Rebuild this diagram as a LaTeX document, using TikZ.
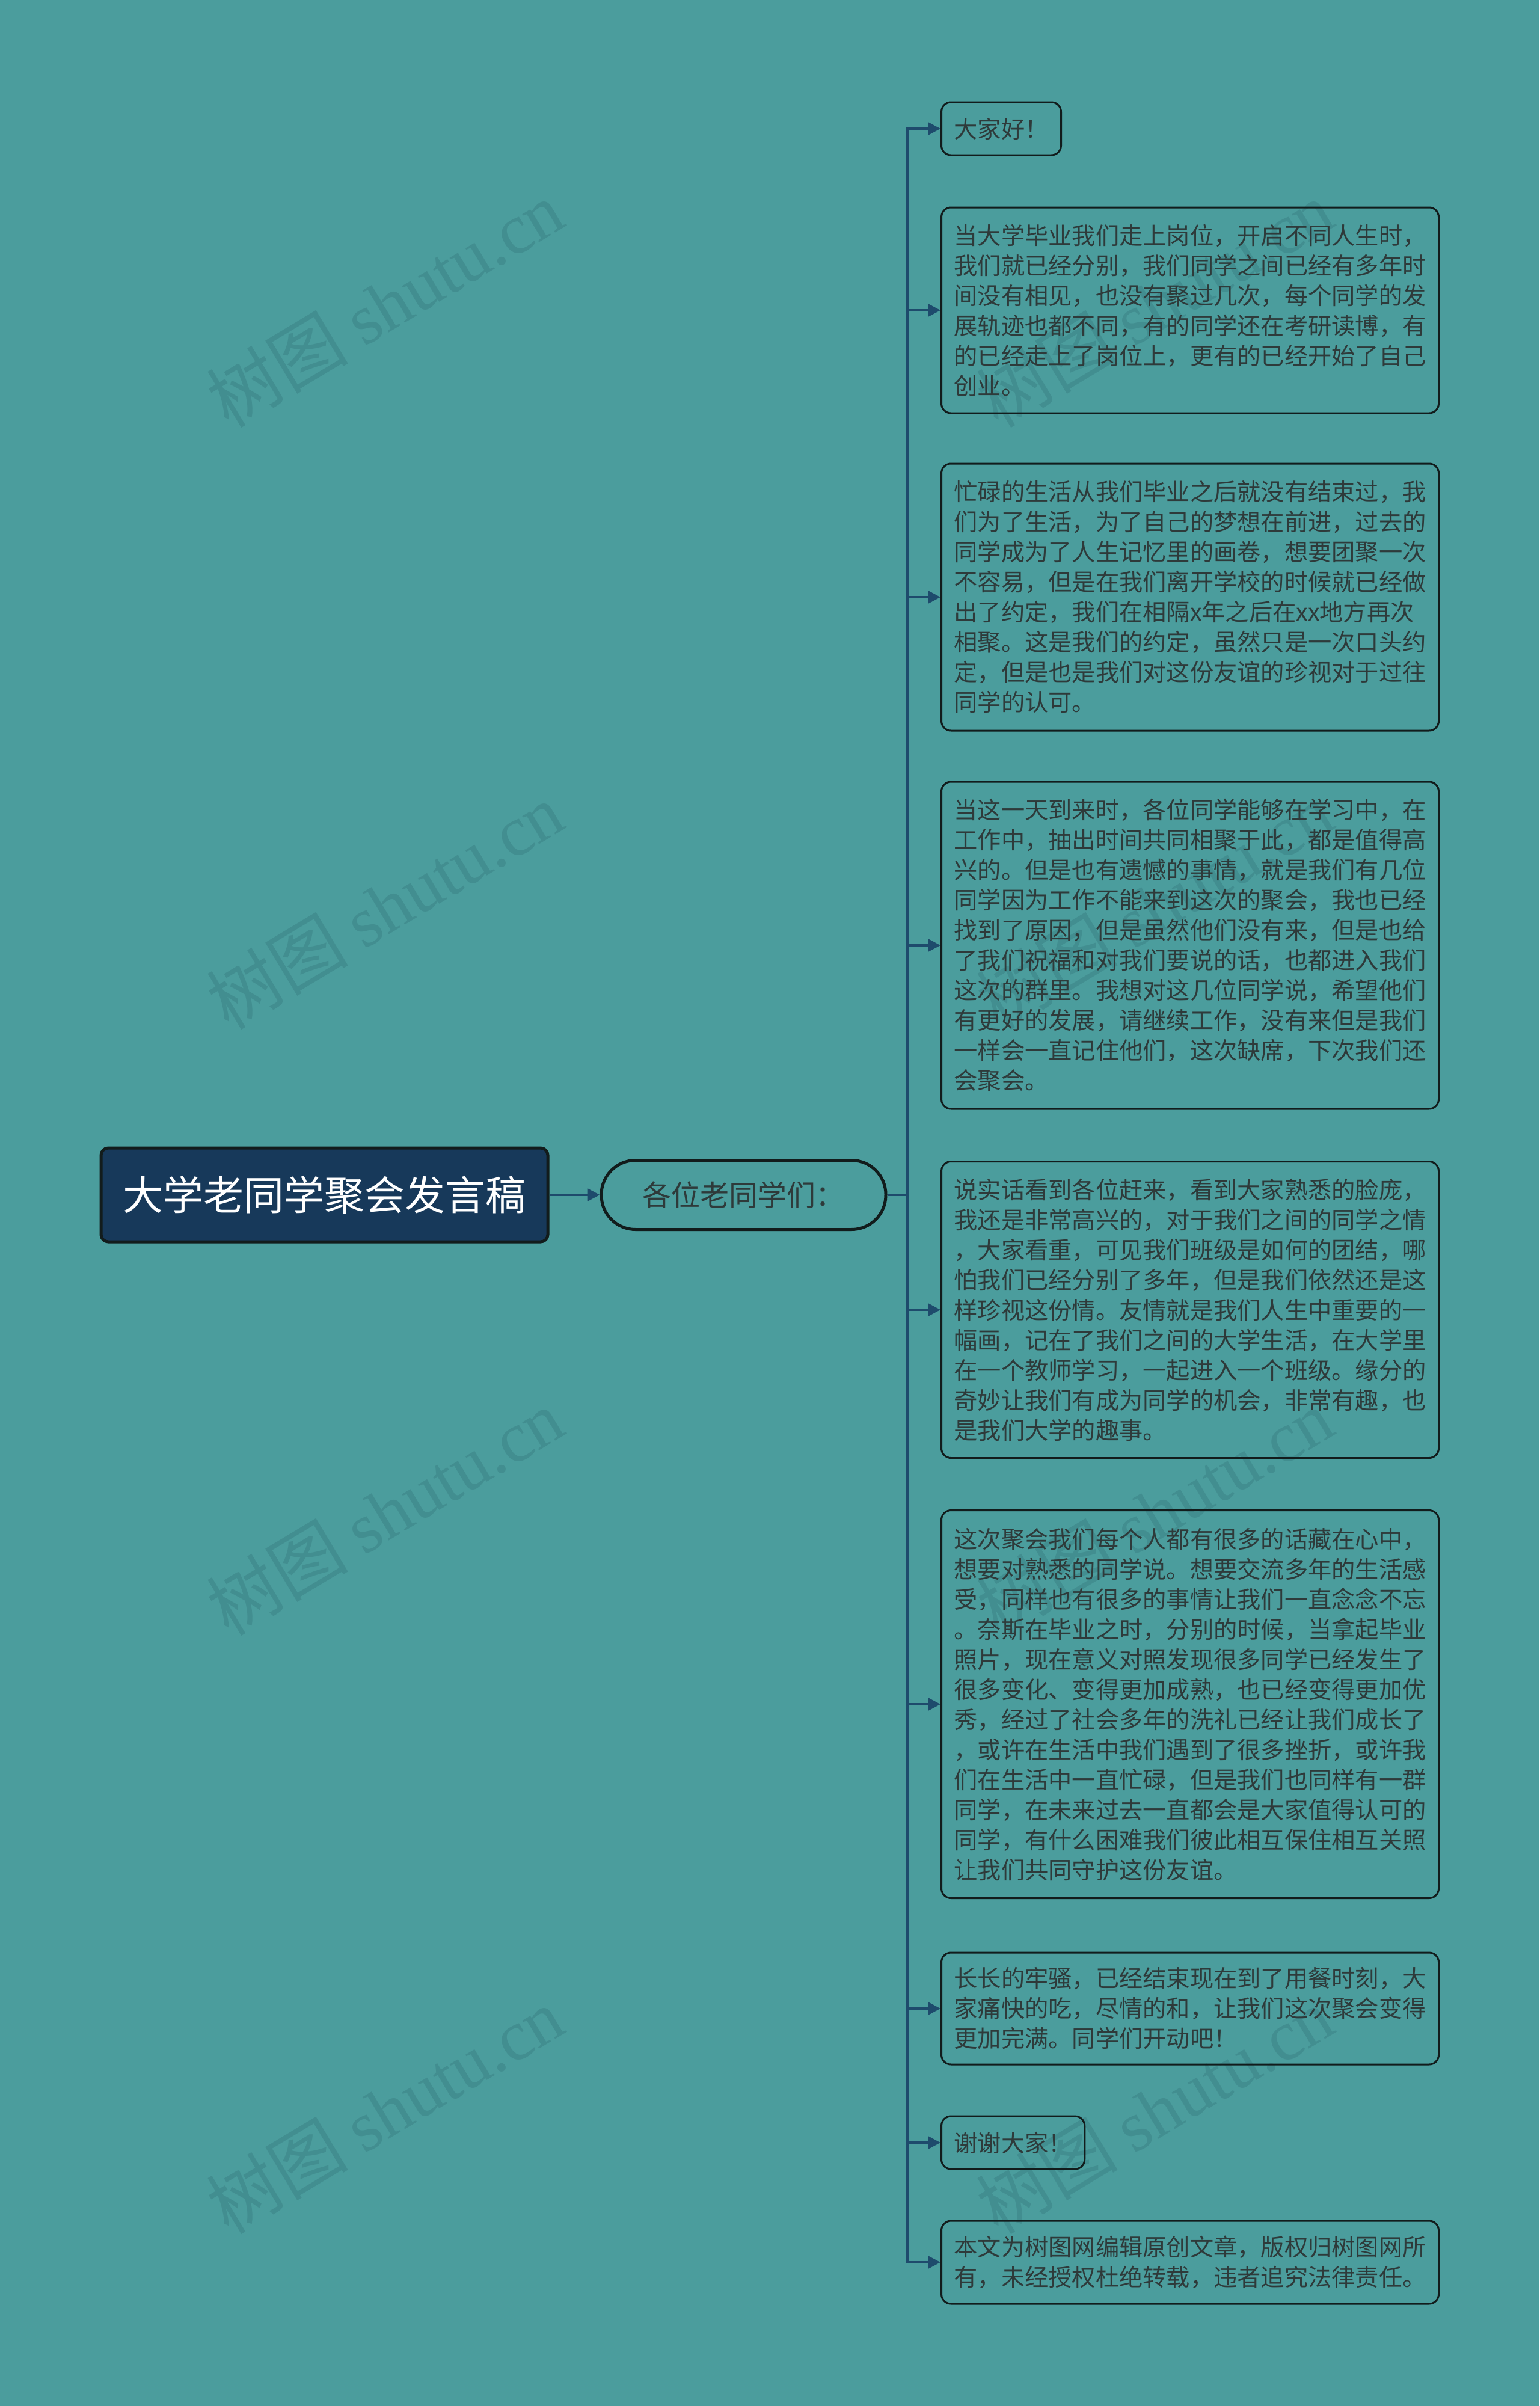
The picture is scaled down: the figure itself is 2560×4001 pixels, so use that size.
\documentclass[tikz,border=0pt]{standalone}
\usepackage{fontspec}
\setmainfont{Noto Sans CJK SC}
\newfontfamily\wmlatin{Liberation Serif}
\usetikzlibrary{arrows.meta}
\definecolor{bg}{HTML}{4B9D9D}
\definecolor{wmcol}{HTML}{428E90}
\definecolor{rootfill}{HTML}{17395A}
\definecolor{conncol}{HTML}{1E4B6C}
\definecolor{txt}{HTML}{2E3A3A}
\definecolor{edge}{HTML}{121C1C}
\tikzset{
  rootbox/.style={draw=edge, line width=5pt, fill=rootfill, rounded corners=12pt,
    minimum width=743pt, minimum height=156pt, inner sep=0pt, text=white,
    font=\fontsize{67pt}{80pt}\selectfont},
  pill/.style={draw=edge, line width=5pt, rounded corners=57pt,
    minimum width=473pt, minimum height=115pt, inner sep=0pt, text=txt,
    font=\fontsize{48pt}{56pt}\selectfont},
  leafbase/.style={draw=edge, line width=3pt, rounded corners=16pt, anchor=west,
    inner xsep=21pt, inner ysep=10pt, text=txt, align=left,
    font=\fontsize{39.25pt}{50pt}\selectfont},
  leaf/.style={leafbase, text width=785pt},
  conn/.style={draw=conncol, line width=4pt, -{Triangle[length=20pt,width=20pt]}},
  wm/.style={text=wmcol, rotate=31, inner sep=0pt, font=\fontsize{118pt}{124pt}\selectfont}
}
\begin{document}
\begin{tikzpicture}[x=1pt,y=-1pt]
\fill[bg] (0,0) rectangle (2560,4001);
\useasboundingbox (0,0) rectangle (2560,4001);

% watermarks
\node[wm] (w1) at (640,505) {树图 {\wmlatin shutu.cn}};
\node[wm] (w2) at (640,1506) {树图 {\wmlatin shutu.cn}};
\node[wm] (w3) at (640,2514) {树图 {\wmlatin shutu.cn}};
\node[wm] (w4) at (640,3509) {树图 {\wmlatin shutu.cn}};
\node[wm] (w5) at (1920,505) {树图 {\wmlatin shutu.cn}};
\node[wm] (w6) at (1920,1506) {树图 {\wmlatin shutu.cn}};
\node[wm] (w7) at (1920,2514) {树图 {\wmlatin shutu.cn}};
\node[wm] (w8) at (1920,3509) {树图 {\wmlatin shutu.cn}};

\node[rootbox] (root) at (539.5,1987) {大学老同学聚会发言稿};
\node[pill] (mid) at (1236.5,1987) {各位老同学们：};

\node[leafbase, minimum height=88pt] (c1) at (1564,214) {大家好！};
\node[leaf, minimum height=342pt] (c2) at (1564,516) {当大学毕业我们走上岗位，开启不同人生时，\\我们就已经分别，我们同学之间已经有多年时\\间没有相见，也没有聚过几次，每个同学的发\\展轨迹也都不同，有的同学还在考研读博，有\\的已经走上了岗位上，更有的已经开始了自己\\创业。};
\node[leaf, minimum height=444pt] (c3) at (1564,993) {忙碌的生活从我们毕业之后就没有结束过，我\\们为了生活，为了自己的梦想在前进，过去的\\同学成为了人生记忆里的画卷，想要团聚一次\\不容易，但是在我们离开学校的时候就已经做\\出了约定，我们在相隔x年之后在xx地方再次\\相聚。这是我们的约定，虽然只是一次口头约\\定，但是也是我们对这份友谊的珍视对于过往\\同学的认可。};
\node[leaf, minimum height=544pt] (c4) at (1564,1572) {当这一天到来时，各位同学能够在学习中，在\\工作中，抽出时间共同相聚于此，都是值得高\\兴的。但是也有遗憾的事情，就是我们有几位\\同学因为工作不能来到这次的聚会，我也已经\\找到了原因，但是虽然他们没有来，但是也给\\了我们祝福和对我们要说的话，也都进入我们\\这次的群里。我想对这几位同学说，希望他们\\有更好的发展，请继续工作，没有来但是我们\\一样会一直记住他们，这次缺席，下次我们还\\会聚会。};
\node[leaf, minimum height=493pt] (c5) at (1564,2178) {说实话看到各位赶来，看到大家熟悉的脸庞，\\我还是非常高兴的，对于我们之间的同学之情\\，大家看重，可见我们班级是如何的团结，哪\\怕我们已经分别了多年，但是我们依然还是这\\样珍视这份情。友情就是我们人生中重要的一\\幅画，记在了我们之间的大学生活，在大学里\\在一个教师学习，一起进入一个班级。缘分的\\奇妙让我们有成为同学的机会，非常有趣，也\\是我们大学的趣事。};
\node[leaf, minimum height=645pt] (c6) at (1564,2834) {这次聚会我们每个人都有很多的话藏在心中，\\想要对熟悉的同学说。想要交流多年的生活感\\受，同样也有很多的事情让我们一直念念不忘\\。奈斯在毕业之时，分别的时候，当拿起毕业\\照片，现在意义对照发现很多同学已经发生了\\很多变化、变得更加成熟，也已经变得更加优\\秀，经过了社会多年的洗礼已经让我们成长了\\，或许在生活中我们遇到了很多挫折，或许我\\们在生活中一直忙碌，但是我们也同样有一群\\同学，在未来过去一直都会是大家值得认可的\\同学，有什么困难我们彼此相互保住相互关照\\让我们共同守护这份友谊。};
\node[leaf, minimum height=186pt] (c7) at (1564,3340) {长长的牢骚，已经结束现在到了用餐时刻，大\\家痛快的吃，尽情的和，让我们这次聚会变得\\更加完满。同学们开动吧！};
\node[leafbase, minimum height=88pt] (c8) at (1564,3563) {谢谢大家！};
\node[leaf, minimum height=138pt] (c9) at (1564,3762) {本文为树图网编辑原创文章，版权归树图网所\\有，未经授权杜绝转载，违者追究法律责任。};

\draw[conn] (root.east) -- (mid.west);
\foreach \c in {c1,c2,c3,c4,c5,c6,c7,c8,c9}{
  \draw[conn] (mid.east) -- ++(33,0) |- (\c.west);
}
\end{tikzpicture}
\end{document}
